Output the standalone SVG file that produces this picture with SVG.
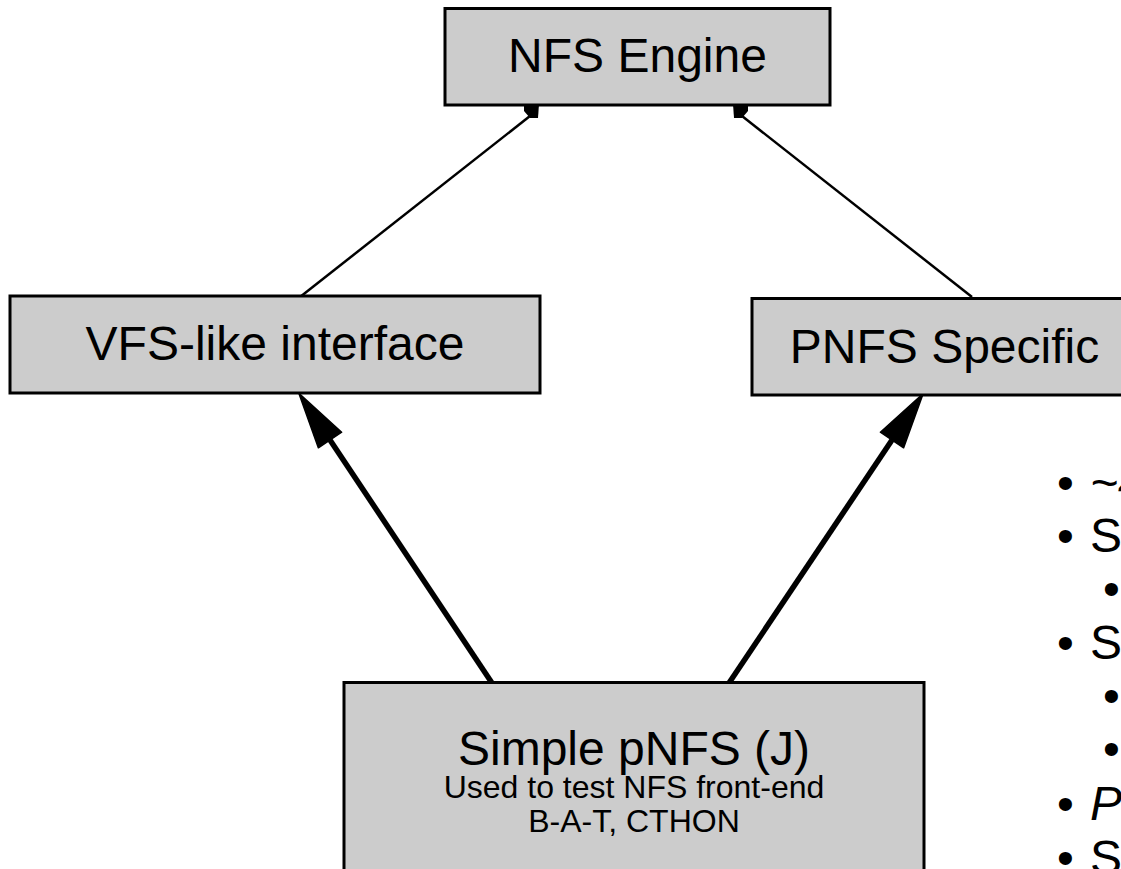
<svg xmlns="http://www.w3.org/2000/svg" width="1121" height="869" viewBox="0 0 1121 869">
  <style>
    .box { fill: #cccccc; stroke: #000000; stroke-width: 3; }
    .lbl { font-family: "Liberation Sans", Arial, sans-serif; fill: #000000; text-anchor: middle; }
    .big { font-size: 48px; }
    .small { font-size: 32px; }
    .thin { stroke: #000000; stroke-width: 2.5; fill: none; }
    .thick { stroke: #000000; stroke-width: 5.5; fill: none; marker-end: url(#bigHead); }
    .head { fill: #000000; }
    .note { font-family: "Liberation Sans", Arial, sans-serif; font-size: 48px; fill: #000000; }
    .em { font-style: italic; }
  </style>
  <defs>
    <marker id="bigHead" markerUnits="userSpaceOnUse" markerWidth="60" markerHeight="34" refX="0" refY="14" orient="auto" viewBox="-2 -2 60 32" overflow="visible">
      <path d="M0,0 L56,14 L0,28 Z" fill="#000000" stroke="#000000" stroke-width="1.5" stroke-linejoin="round"/>
    </marker>
  </defs>
  <rect width="1121" height="869" fill="#ffffff"/>

  <g id="connectors">
    <!-- VFS-like interface to NFS Engine -->
    <line class="thin" x1="300" y1="297" x2="530" y2="116"/>
    <polygon class="head" points="524,104 539,104 538,118 530,118 524,111"/>
    <!-- PNFS Specific to NFS Engine -->
    <line class="thin" x1="972" y1="297" x2="742" y2="116"/>
    <polygon class="head" points="733,104 748,104 748,111 742,118 734,118"/>
    <!-- Simple pNFS to VFS-like interface -->
    <line class="thick" x1="492" y1="683" x2="330" y2="440"/>
    <!-- Simple pNFS to PNFS Specific -->
    <line class="thick" x1="729" y1="683" x2="892" y2="440"/>
  </g>

  <g id="nfs-engine">
    <rect class="box" x="445" y="8.5" width="385" height="96.5"/>
    <text class="lbl big" x="637.5" y="72">NFS Engine</text>
  </g>

  <g id="vfs-interface">
    <rect class="box" x="10" y="296" width="530" height="97"/>
    <text class="lbl big" x="275" y="360">VFS-like interface</text>
  </g>

  <g id="pnfs-specific">
    <rect class="box" x="752" y="298.5" width="385" height="96.5"/>
    <text class="lbl big" x="944.5" y="363">PNFS Specific</text>
  </g>

  <g id="simple-pnfs">
    <rect class="box" x="344" y="682.5" width="580" height="220"/>
    <text class="lbl big" x="634" y="765">Simple pNFS (J)</text>
    <text class="lbl small" x="634" y="798">Used to test NFS front-end</text>
    <text class="lbl small" x="634" y="832">B-A-T, CTHON</text>
  </g>

  <g id="notes">
    <text class="note" x="1057" y="499">•</text>
    <text class="note em" x="1090" y="499">~4</text>
    <text class="note" x="1057" y="552">•</text>
    <text class="note" x="1090" y="552">S</text>
    <text class="note" x="1103" y="605">•</text>
    <text class="note" x="1057" y="659">•</text>
    <text class="note" x="1090" y="659">S</text>
    <text class="note" x="1103" y="712">•</text>
    <text class="note" x="1103" y="765">•</text>
    <text class="note" x="1057" y="820">•</text>
    <text class="note em" x="1090" y="820">P</text>
    <text class="note" x="1057" y="874">•</text>
    <text class="note" x="1090" y="874">S</text>
  </g>
</svg>
